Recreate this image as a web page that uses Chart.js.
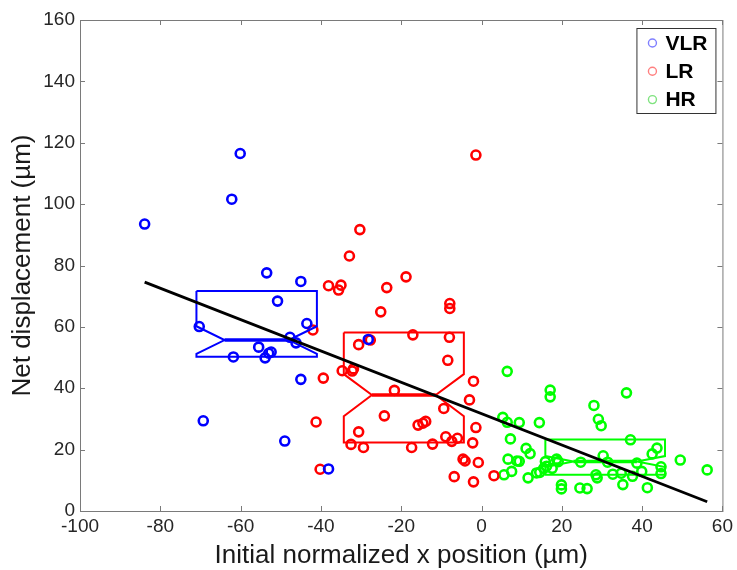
<!DOCTYPE html>
<html lang="en">
<head>
<meta charset="UTF-8">
<title>Net displacement vs initial normalized x position</title>
<script src="https://cdn.jsdelivr.net/npm/chart.js"></script>
<style>
  html, body { margin: 0; padding: 0; background: #fff; }
  #wrap { width: 737px; height: 570px; position: relative; }
</style>
</head>
<body>
<div id="wrap"><canvas id="displacementChart"></canvas></div>

<script>
// --- data ---
const groupNames = ['VLR', 'LR', 'HR'];

const vlrX = [-83.9, -62.2, -60.1, -53.5, -45.0, -50.8, -43.5, -70.3, -47.7, -46.2,
              -55.5, -52.4, -53.0, -61.8, -53.9, -45.0, -69.3, -49.0, -38.1, -28.2];
const vlrY = [93.5, 101.6, 116.5, 77.6, 74.8, 68.4, 61.1, 60.1, 56.6, 54.8,
              53.4, 51.8, 51.4, 50.2, 49.9, 42.9, 29.4, 22.8, 13.7, 55.9];

const lrX = [-1.4, -30.3, -32.9, -18.8, -38.1, -35.0, -35.6, -23.6, -25.1, -7.9,
             -7.9, -42.0, -17.1, -8.0, -27.7, -30.6, -8.4, -34.7, -31.9, -32.2,
             -39.4, -2.0, -21.7, -3.0, -9.4, -24.2, -41.2, -15.8, -14.6, -13.9,
             -1.4, -30.6, -8.9, -6.0, -7.4, -2.2, -12.2, -17.4, -32.5, -29.4,
             -4.6, -4.1, -0.8, -40.2, -6.8, -2.0, 3.1];
const lrY = [116.0, 91.7, 83.1, 76.3, 73.4, 73.6, 72.0, 72.8, 64.9, 67.6,
             66.0, 59.0, 57.4, 56.6, 55.7, 54.2, 49.1, 45.7, 46.3, 45.6,
             43.3, 42.3, 39.3, 36.2, 33.4, 31.0, 29.0, 28.0, 28.6, 29.2,
             27.2, 25.8, 24.2, 23.7, 22.7, 22.2, 21.8, 20.7, 21.7, 20.7,
             16.9, 16.3, 15.8, 13.6, 11.2, 9.5, 11.5];

const hrX = [6.4, 17.1, 17.1, 36.1, 28.0, 29.1, 29.8, 5.3, 6.4, 9.4,
             14.4, 7.2, 37.1, 11.1, 12.1, 43.7, 42.5, 6.6, 8.8, 9.4,
             30.3, 49.5, 56.2, 5.6, 7.5, 11.6, 13.7, 14.5, 15.9, 16.2,
             17.6, 18.7, 19.1, 24.7, 31.4, 38.7, 28.5, 28.8, 32.7, 34.8,
             37.6, 39.9, 44.7, 44.7, 19.9, 19.9, 24.5, 26.3, 35.2, 41.3, 15.5];
const hrY = [45.5, 39.4, 37.2, 38.5, 34.4, 29.9, 27.8, 30.5, 28.9, 28.8,
             28.8, 23.5, 23.2, 20.4, 18.7, 20.5, 18.6, 16.9, 16.3, 16.2,
             18.0, 16.6, 13.4, 11.8, 12.9, 10.8, 12.4, 12.6, 16.1, 14.6,
             13.9, 16.9, 16.1, 15.9, 15.9, 15.6, 11.8, 10.8, 12.0, 12.3,
             11.3, 12.9, 14.4, 12.2, 8.5, 7.2, 7.5, 7.3, 8.6, 7.6, 13.9];

// notched box statistics per group (VLR, LR, HR)
const boxLeft   = [-71.0, -34.3, 15.9];
const boxRight  = [-41.0, -4.4, 45.7];
const boxQ1     = [50.3, 22.3, 11.8];
const boxMedian = [55.7, 37.8, 16.1];
const boxQ3     = [71.7, 58.2, 23.3];
const notchLow  = [51.2, 30.9, 14.3];
const notchHigh = [60.2, 44.6, 17.9];

// linear fit end points
const fitX = [-83.9, 56.2];
const fitY = [74.6, 3.0];

// x / y tick values
const xTicks = [-100, -80, -60, -40, -20, 0, 20, 40, 60];
const yTicks = [0, 20, 40, 60, 80, 100, 120, 140, 160];

// --- styling ---
const colors = ['#0000ff', '#ff0000', '#00ff00'];
const legendColors = ['rgba(0,0,255,0.5)', 'rgba(255,0,0,0.5)', 'rgba(0,200,0,0.5)'];
const NOTCH_INSET = 7;
const FONT = "'Liberation Sans', Arial, Helvetica, sans-serif";

function pts(xs, ys) { return xs.map((x, i) => ({ x: x, y: ys[i] })); }

function notchedBox(i) {
    const l = boxLeft[i], r = boxRight[i];
    return [
        { x: l, y: boxQ3[i] }, { x: r, y: boxQ3[i] },
        { x: r, y: notchHigh[i] }, { x: r - NOTCH_INSET, y: boxMedian[i] },
        { x: r, y: notchLow[i] }, { x: r, y: boxQ1[i] },
        { x: l, y: boxQ1[i] }, { x: l, y: notchLow[i] },
        { x: l + NOTCH_INSET, y: boxMedian[i] }, { x: l, y: notchHigh[i] },
        { x: l, y: boxQ3[i] }
    ];
}

const datasets = [];
// fit line first so it is drawn on top
datasets.push({
    label: 'fit', data: pts(fitX, fitY), showLine: true,
    borderColor: '#000', borderWidth: 2.8, pointRadius: 0
});
groupNames.forEach((g, i) => {
    datasets.push({
        label: g + ' median',
        data: [{ x: boxLeft[i] + NOTCH_INSET, y: boxMedian[i] }, { x: boxRight[i] - NOTCH_INSET, y: boxMedian[i] }],
        showLine: true, borderColor: colors[i], borderWidth: 3.5, pointRadius: 0
    });
    datasets.push({
        label: g + ' box', data: notchedBox(i), showLine: true,
        borderColor: colors[i], borderWidth: 2, pointRadius: 0, lineTension: 0
    });
});
const series = [pts(vlrX, vlrY), pts(lrX, lrY), pts(hrX, hrY)];
groupNames.forEach((g, i) => {
    datasets.push({
        label: g, data: series[i],
        pointStyle: 'circle', pointRadius: 4.5, borderWidth: 2.6,
        borderColor: colors[i], backgroundColor: 'rgba(0,0,0,0)', showLine: false
    });
});

// box frame + inward ticks, like matlab
const framePlugin = {
    id: 'frame',
    afterDatasetsDraw(chart) {
        const { ctx, chartArea: a, scales } = chart;
        ctx.save();
        ctx.strokeStyle = '#7a7a7a';
        ctx.lineWidth = 1;
        ctx.strokeRect(a.left + 0.5, a.top + 0.5, a.right - a.left, a.bottom - a.top);
        ctx.beginPath();
        xTicks.forEach(v => {
            const px = Math.round(scales.x.getPixelForValue(v)) + 0.5;
            ctx.moveTo(px, a.bottom); ctx.lineTo(px, a.bottom - 5);
            ctx.moveTo(px, a.top); ctx.lineTo(px, a.top + 5);
        });
        yTicks.forEach(v => {
            const py = Math.round(scales.y.getPixelForValue(v)) + 0.5;
            ctx.moveTo(a.left, py); ctx.lineTo(a.left + 5, py);
            ctx.moveTo(a.right, py); ctx.lineTo(a.right - 5, py);
        });
        ctx.stroke();

        // legend box in the upper right corner
        const w = 79, h = 85;
        const lx = a.right - 7 - w, ly = a.top + 8;
        ctx.fillStyle = '#fff';
        ctx.fillRect(lx, ly, w, h);
        ctx.strokeStyle = '#333';
        ctx.strokeRect(lx + 0.5, ly + 0.5, w, h);
        ctx.font = 'bold 21px ' + FONT;
        ctx.textBaseline = 'middle';
        ctx.textAlign = 'left';
        groupNames.forEach((g, i) => {
            const cy = ly + 15 + i * 28.3;
            ctx.beginPath();
            ctx.arc(lx + 16, cy, 4, 0, Math.PI * 2);
            ctx.strokeStyle = legendColors[i];
            ctx.lineWidth = 1.4;
            ctx.stroke();
            ctx.fillStyle = '#000';
            ctx.fillText(g, lx + 29, cy + 1);
        });
        ctx.restore();
    }
};

new Chart(document.getElementById('displacementChart'), {
    type: 'scatter',
    data: { datasets: datasets },
    options: {
        responsive: true,
        maintainAspectRatio: false,
        animation: false,
        layout: { padding: { top: 20, right: 13, left: 0, bottom: 0 } },
        plugins: { legend: { display: false }, tooltip: { enabled: false } },
        scales: {
            x: {
                type: 'linear', min: -100, max: 60,
                afterBuildTicks: s => { s.ticks = xTicks.map(v => ({ value: v })); },
                afterFit: s => { s.height = 59; },
                grid: { display: false, drawTicks: false },
                border: { display: false },
                ticks: { color: '#262626', font: { family: FONT, size: 19 }, padding: 4, maxRotation: 0, autoSkip: false },
                title: {
                    display: true, text: 'Initial normalized x position (µm)', color: '#1a1a1a',
                    font: { family: FONT, size: 26, lineHeight: 1 }, padding: { top: 0, bottom: 1 }
                }
            },
            y: {
                type: 'linear', min: 0, max: 160,
                afterBuildTicks: s => { s.ticks = yTicks.map(v => ({ value: v })); },
                afterFit: s => { s.width = 80; },
                grid: { display: false, drawTicks: false },
                border: { display: false },
                ticks: { color: '#262626', font: { family: FONT, size: 19 }, padding: 5, autoSkip: false },
                title: {
                    display: true, text: 'Net displacement (µm)', color: '#1a1a1a',
                    font: { family: FONT, size: 26, lineHeight: 1 }, padding: { top: 10, bottom: 0 }
                }
            }
        }
    },
    plugins: [framePlugin]
});
</script>
</body>
</html>
